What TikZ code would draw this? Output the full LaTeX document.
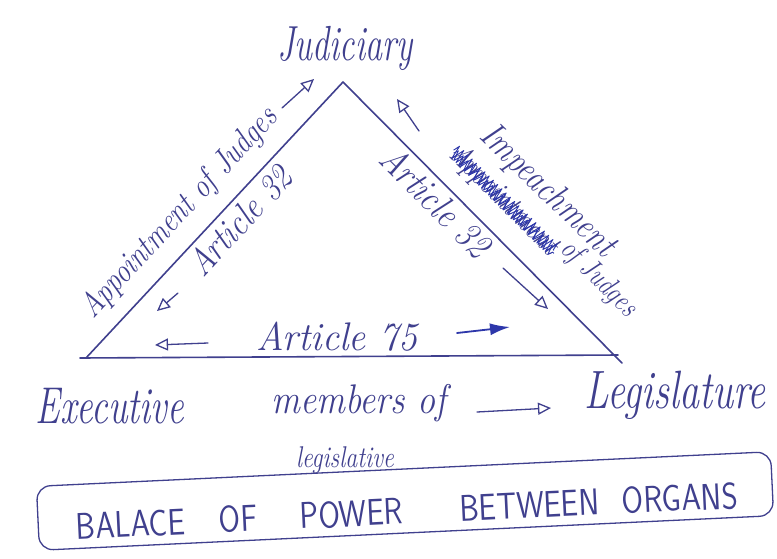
\documentclass[tikz,border=0pt]{standalone}
\usetikzlibrary{arrows.meta,decorations.pathmorphing}
\definecolor{ink}{RGB}{64,64,142}
\definecolor{blot}{RGB}{45,55,170}
\newcommand{\penfont}[1]{\fontsize{#1}{#1}\selectfont\itshape}
% stretch handwriting vertically
\newcommand{\tall}[2]{\scalebox{1}[#1]{#2}}
\begin{document}
\begin{tikzpicture}[x=1pt,y=-1pt,
  side/.style={draw=ink, line width=1.6pt, line cap=round, line join=round},
  pen/.style={text=ink, inner sep=0pt, anchor=base},
  openarrow/.style={draw=ink, line width=1.3pt, line cap=round,
    -{Triangle[open,length=13pt,width=12pt,line width=1.3pt]}},
  blotarrow/.style={draw=blot, line width=1.8pt, line cap=round,
    -{Latex[length=20pt,width=12pt]}},
  scribble/.style={draw=blot, line width=0.9pt, line join=round,
    decorate, decoration={zigzag, amplitude=7pt, segment length=6pt}},
  capbox/.style={draw=ink, line width=1.3pt, rounded corners=14pt,
    minimum width=735pt, minimum height=64pt, rotate=2.7}]

% canvas
\fill[white] (0,0) rectangle (777,558);
\useasboundingbox (0,0) rectangle (777,558);

% the three organs as corners of the triangle
\coordinate (apex) at (343,82);
\coordinate (bl) at (86,358);
\coordinate (blbase) at (80,358);
\coordinate (brbase) at (618,355);
\coordinate (br) at (622,363);

\draw[side] (bl) -- (apex) -- (br);
\draw[side] (blbase) -- (brbase);

% organ names
\node[pen, font=\penfont{34}] (jud) at (345,60) {\tall{1.45}{Judiciary}};
\node[pen, font=\penfont{37}] (exe) at (110,423) {\tall{1.4}{Executive}};
\node[pen, font=\penfont{40}] (leg) at (675,408) {\tall{1.35}{Legislature}};

% left side: executive -> judiciary
\node[pen, font=\penfont{28}, rotate=47.2] (appL) at (186,219) {\tall{1.2}{Appointment of Judges}};
\node[pen, font=\penfont{32}, rotate=47.2] (a32L) at (249,229) {\tall{1.15}{Article 32}};
\coordinate (appLtail) at (282,108);
\coordinate (appLhead) at (314,79);
\draw[openarrow] (appLtail) -- (appLhead);
\coordinate (a32Ltail) at (178,293);
\coordinate (a32Lhead) at (157,311);
\draw[openarrow] (a32Ltail) -- (a32Lhead);

% right side: legislature -> judiciary
\node[pen, font=\penfont{31}, rotate=-44] (imp) at (541,198) {\tall{1.2}{Impeachment}};
\node[pen, font=\penfont{26}, rotate=-45] (appR) at (498,206) {\tall{1.2}{Appointment}};
\node[pen, font=\penfont{24}, rotate=-45] (ofj) at (593,284) {\tall{1.25}{of Judges}};
\draw[scribble] (appR.west) -- (appR.east);
\draw[scribble, decoration={zigzag, amplitude=5pt, segment length=7pt}]
  ([yshift=-3pt]appR.west) -- ([yshift=-3pt]appR.east);
\node[pen, font=\penfont{33}, rotate=-45] (a32R) at (427,211) {\tall{1.15}{Article 32}};
\coordinate (impTail) at (419,131);
\coordinate (impHead) at (397,99);
\draw[openarrow] (impTail) -- (impHead);
\coordinate (a32Rtail) at (503,268);
\coordinate (a32Rhead) at (548,309);
\draw[openarrow] (a32Rtail) -- (a32Rhead);

% base: executive <-> legislature
\node[pen, font=\penfont{38}] (a75) at (337,350) {\tall{1.05}{Article 75}};
\coordinate (a75Ltail) at (208,343);
\coordinate (a75Lhead) at (155,345);
\draw[openarrow] (a75Ltail) -- (a75Lhead);
\coordinate (a75Rtail) at (457,333);
\coordinate (a75Rhead) at (510,327);
\draw[blotarrow] (a75Rtail) -- (a75Rhead);

\node[pen, font=\penfont{36}] (mem) at (359,413) {\tall{1.15}{members of}};
\node[pen, font=\penfont{24}] (legtive) at (345,467) {\tall{1.25}{legislative}};
\coordinate (memTail) at (477,412);
\coordinate (memHead) at (551,408);
\draw[openarrow] (memTail) -- (memHead);

% caption
\node[capbox] (box) at (405,501) {};
\node[text=ink, inner sep=0pt, rotate=2.7,
  font=\fontsize{31}{31}\selectfont\sffamily] (cap) at (407,511)
  {\tall{1.2}{BALACE\hspace{34pt}OF\hspace{43pt}POWER\hspace{57pt}BETWEEN\hspace{23pt}ORGANS}};
\end{tikzpicture}
\end{document}
